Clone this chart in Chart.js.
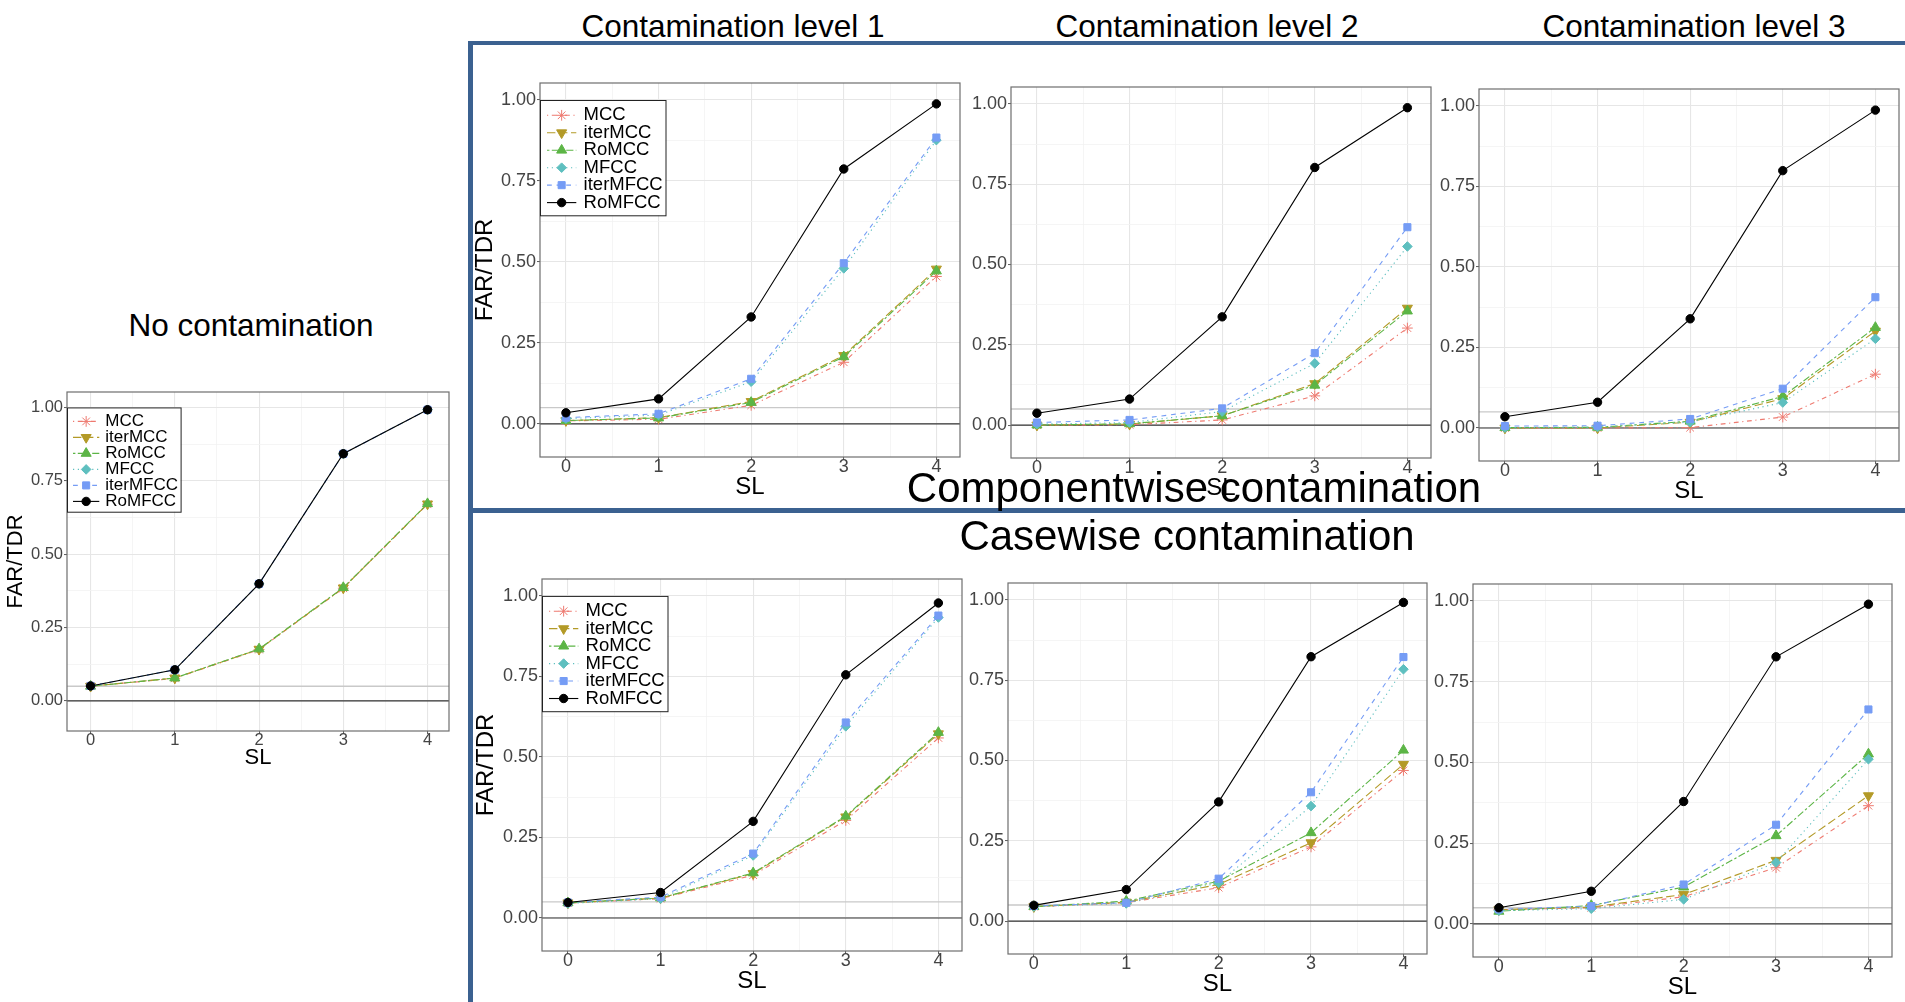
<!DOCTYPE html>
<html lang="en">
<head>
<meta charset="utf-8">
<title>FAR/TDR by SL</title>
<script src="https://cdn.jsdelivr.net/npm/chart.js@4.4.1/dist/chart.umd.min.js"></script>
<style>
  html, body { margin: 0; padding: 0; background: #fff; }
  body { position: relative; width: 1905px; height: 1002px; overflow: hidden;
         font-family: "Liberation Sans", Arial, Helvetica, sans-serif; }
  canvas { position: absolute; }
  .heading { position: absolute; white-space: nowrap; line-height: 1; color: #000;
             transform: translateX(-50%); z-index: 3; }
  .rule { position: absolute; background: #3b6190; z-index: 2; }
</style>
</head>
<body>
<div class="rule" style="left:468px;top:41px;width:1437px;height:4px"></div>
<div class="rule" style="left:468px;top:41px;width:5px;height:961px"></div>
<div class="rule" style="left:468px;top:508px;width:1437px;height:5px"></div>

<div class="heading" style="left:251px;top:310px;font-size:31.5px">No contamination</div>
<div class="heading" style="left:733px;top:10.5px;font-size:31.5px">Contamination level 1</div>
<div class="heading" style="left:1207px;top:10.5px;font-size:31.5px">Contamination level 2</div>
<div class="heading" style="left:1694px;top:10.5px;font-size:31.5px">Contamination level 3</div>
<div class="heading" style="left:1194px;top:467px;font-size:42px">Componentwise contamination</div>
<div class="heading" style="left:1187px;top:514.5px;font-size:42px">Casewise contamination</div>

<script>
// ---- data -----------------------------------------------------------------
const SL = [0, 1, 2, 3, 4];
const methodNames = ['MCC', 'iterMCC', 'RoMCC', 'MFCC', 'iterMFCC', 'RoMFCC'];
const yMajorTicks = [0, 0.25, 0.5, 0.75, 1];
const yMinorTicks = [0.125, 0.375, 0.625, 0.875];
const xMinorTicks = [0.5, 1.5, 2.5, 3.5];
const referenceLevels = [0, 0.05];
const yLimits = [-0.1025, 1.0525];
const xLimits = [-0.28, 4.255];

// No contamination
const none_MCC      = [0.050, 0.077, 0.175, 0.384, 0.670];
const none_iterMCC  = [0.050, 0.078, 0.176, 0.385, 0.671];
const none_RoMCC    = [0.050, 0.078, 0.177, 0.386, 0.672];
const none_MFCC     = [0.051, 0.106, 0.399, 0.842, 0.992];
const none_iterMFCC = [0.051, 0.106, 0.399, 0.842, 0.992];
const none_RoMFCC   = [0.051, 0.106, 0.399, 0.842, 0.992];

// Componentwise contamination, level 1
const comp1_MCC      = [0.009, 0.014, 0.057, 0.190, 0.455];
const comp1_iterMCC  = [0.010, 0.019, 0.069, 0.211, 0.478];
const comp1_RoMCC    = [0.010, 0.018, 0.066, 0.207, 0.472];
const comp1_MFCC     = [0.016, 0.027, 0.130, 0.480, 0.876];
const comp1_iterMFCC = [0.019, 0.031, 0.139, 0.496, 0.884];
const comp1_RoMFCC   = [0.034, 0.077, 0.330, 0.787, 0.988];

// Componentwise contamination, level 2
const comp2_MCC      = [0.000, 0.001, 0.016, 0.091, 0.302];
const comp2_iterMCC  = [0.000, 0.003, 0.029, 0.129, 0.364];
const comp2_RoMCC    = [0.000, 0.004, 0.029, 0.124, 0.355];
const comp2_MFCC     = [0.003, 0.008, 0.042, 0.192, 0.556];
const comp2_iterMFCC = [0.008, 0.016, 0.052, 0.224, 0.616];
const comp2_RoMFCC   = [0.037, 0.081, 0.337, 0.802, 0.988];

// Componentwise contamination, level 3
const comp3_MCC      = [0.000, 0.000, 0.001, 0.034, 0.167];
const comp3_iterMCC  = [0.000, 0.000, 0.018, 0.091, 0.301];
const comp3_RoMCC    = [0.001, 0.002, 0.021, 0.098, 0.312];
const comp3_MFCC     = [0.001, 0.003, 0.018, 0.079, 0.277];
const comp3_iterMFCC = [0.006, 0.007, 0.028, 0.122, 0.406];
const comp3_RoMFCC   = [0.035, 0.080, 0.339, 0.799, 0.987];

// Casewise contamination, level 1
const case1_MCC      = [0.046, 0.060, 0.133, 0.303, 0.559];
const case1_iterMCC  = [0.047, 0.062, 0.138, 0.314, 0.572];
const case1_RoMCC    = [0.047, 0.062, 0.140, 0.316, 0.576];
const case1_MFCC     = [0.045, 0.060, 0.194, 0.595, 0.933];
const case1_iterMFCC = [0.048, 0.065, 0.200, 0.607, 0.939];
const case1_RoMFCC   = [0.048, 0.079, 0.300, 0.755, 0.978];

// Casewise contamination, level 2
const case2_MCC      = [0.045, 0.057, 0.104, 0.231, 0.469];
const case2_iterMCC  = [0.045, 0.059, 0.114, 0.244, 0.488];
const case2_RoMCC    = [0.045, 0.062, 0.124, 0.275, 0.532];
const case2_MFCC     = [0.045, 0.055, 0.119, 0.358, 0.784];
const case2_iterMFCC = [0.047, 0.057, 0.132, 0.401, 0.822];
const case2_RoMFCC   = [0.049, 0.098, 0.371, 0.823, 0.992];

// Casewise contamination, level 3
const case3_MCC      = [0.044, 0.050, 0.084, 0.174, 0.366];
const case3_iterMCC  = [0.044, 0.052, 0.091, 0.197, 0.397];
const case3_RoMCC    = [0.039, 0.057, 0.114, 0.273, 0.526];
const case3_MFCC     = [0.041, 0.047, 0.076, 0.190, 0.510];
const case3_iterMFCC = [0.045, 0.055, 0.122, 0.307, 0.664];
const case3_RoMFCC   = [0.050, 0.101, 0.379, 0.827, 0.990];

// ---- styling ----------------------------------------------------------------
const FONT = '"Liberation Sans", Arial, Helvetica, sans-serif';
Chart.defaults.font.family = FONT;

const methodStyles = [
  { color: '#EE7A70', dash: [1.2, 3.6, 4.8, 3.6],      point: 'star',     radius: 5.4, rotation: 0 },
  { color: '#B39A27', dash: [8.4, 3.6],                point: 'triangle', radius: 5.8, rotation: 180 },
  { color: '#5CB546', dash: [2.4, 2.4, 7.2, 2.4],      point: 'triangle', radius: 5.8, rotation: 0 },
  { color: '#5EBFBF', dash: [1.2, 3.6],                point: 'rectRot',  radius: 4.8, rotation: 0 },
  { color: '#759CF5', dash: [4.8, 4.8],                point: 'rect',     radius: 5.0, rotation: 0 },
  { color: '#000000', dash: [],                        point: 'circle',   radius: 4.2, rotation: 0 }
];

const bigFonts   = { tick: 18,   title: 24, legend: 18.5 };
const smallFonts = { tick: 16.5, title: 22, legend: 17 };
const bigLegend   = { w: 125.5, h: 115.3, first: 15.3, row: 17.46, lx0: 7, lx1: 36.3, tx: 43.6 };
const smallLegend = { w: 113.6, h: 104.3, first: 14.0, row: 16.0,  lx0: 6, lx1: 32.3, tx: 38.3 };

// plot boxes: [left, top, right, bottom] in page pixels
const panels = [
  { box: [67, 392, 449, 731],     fonts: smallFonts, padB: 40, yGap: 51, legend: smallLegend,
    series: [none_MCC, none_iterMCC, none_RoMCC, none_MFCC, none_iterMFCC, none_RoMFCC] },
  { box: [540, 83, 960, 457],     fonts: bigFonts, padB: 45, yGap: 55, legend: bigLegend,
    series: [comp1_MCC, comp1_iterMCC, comp1_RoMCC, comp1_MFCC, comp1_iterMFCC, comp1_RoMFCC] },
  { box: [1011, 87, 1431, 458],   fonts: bigFonts, padB: 45, yGap: null, legend: null,
    series: [comp2_MCC, comp2_iterMCC, comp2_RoMCC, comp2_MFCC, comp2_iterMFCC, comp2_RoMFCC] },
  { box: [1479, 89, 1899, 461],   fonts: bigFonts, padB: 45, yGap: null, legend: null,
    series: [comp3_MCC, comp3_iterMCC, comp3_RoMCC, comp3_MFCC, comp3_iterMFCC, comp3_RoMFCC] },
  { box: [542, 579, 962, 951],    fonts: bigFonts, padB: 45, yGap: 55.3, legend: bigLegend,
    series: [case1_MCC, case1_iterMCC, case1_RoMCC, case1_MFCC, case1_iterMFCC, case1_RoMFCC] },
  { box: [1008, 583, 1427, 954],  fonts: bigFonts, padB: 45, yGap: null, legend: null,
    series: [case2_MCC, case2_iterMCC, case2_RoMCC, case2_MFCC, case2_iterMFCC, case2_RoMFCC] },
  { box: [1473, 584, 1892, 957],  fonts: bigFonts, padB: 45, yGap: null, legend: null,
    series: [case3_MCC, case3_iterMCC, case3_RoMCC, case3_MFCC, case3_iterMFCC, case3_RoMFCC] }
];

const PAD_L = 74, PAD_T = 8, PAD_R = 8;

const isMajorY = v => yMajorTicks.some(m => Math.abs(m - v) < 1e-9);
const isMajorX = v => SL.some(m => Math.abs(m - v) < 1e-9);

// ---- plugins ----------------------------------------------------------------
const referenceLines = {
  id: 'referenceLines',
  beforeDatasetsDraw(chart) {
    const { ctx, chartArea, scales } = chart;
    ctx.save();
    referenceLevels.slice().reverse().forEach(level => {
      const y = scales.y.getPixelForValue(level);
      ctx.strokeStyle = level === 0 ? '#333333' : '#C9C9C9';
      ctx.lineWidth = level === 0 ? 1.2 : 1.4;
      ctx.beginPath();
      ctx.moveTo(chartArea.left, y);
      ctx.lineTo(chartArea.right, y);
      ctx.stroke();
    });
    ctx.restore();
  }
};

const plotFrame = {
  id: 'plotFrame',
  afterDatasetsDraw(chart) {
    const { ctx, chartArea: a } = chart;
    ctx.save();
    ctx.strokeStyle = '#6e6e6e';
    ctx.lineWidth = 1.2;
    ctx.strokeRect(a.left, a.top, a.right - a.left, a.bottom - a.top);
    ctx.restore();
  }
};

const boxLegend = {
  id: 'boxLegend',
  afterDraw(chart, args, o) {
    if (!o || !o.w) return;
    const { ctx, chartArea, scales } = chart;
    const x0 = chartArea.left;
    const y0 = scales.y.getPixelForValue(1);
    ctx.save();
    ctx.fillStyle = '#ffffff';
    ctx.fillRect(x0, y0, o.w, o.h);
    ctx.strokeStyle = '#222';
    ctx.lineWidth = 1;
    ctx.strokeRect(x0 + 0.5, y0 + 0.5, o.w, o.h);
    chart.data.datasets.forEach((ds, i) => {
      const cy = y0 + o.first + i * o.row;
      ctx.setLineDash(ds.borderDash || []);
      ctx.strokeStyle = ds.borderColor;
      ctx.lineWidth = ds.borderWidth;
      ctx.beginPath();
      ctx.moveTo(x0 + o.lx0, cy);
      ctx.lineTo(x0 + o.lx1, cy);
      ctx.stroke();
      ctx.setLineDash([]);
      ctx.fillStyle = ds.pointBackgroundColor;
      ctx.strokeStyle = ds.pointBorderColor;
      ctx.lineWidth = ds.pointBorderWidth;
      Chart.helpers.drawPoint(ctx, {
        pointStyle: ds.pointStyle, rotation: ds.pointRotation || 0,
        radius: ds.pointRadius, borderWidth: ds.pointBorderWidth
      }, x0 + (o.lx0 + o.lx1) / 2, cy);
      ctx.fillStyle = '#000';
      ctx.font = o.font + 'px ' + FONT;
      ctx.textBaseline = 'middle';
      ctx.textAlign = 'left';
      ctx.fillText(ds.label, x0 + o.tx, cy);
    });
    ctx.restore();
  }
};

// ---- charts -----------------------------------------------------------------
function buildPanel(p) {
  const [l, t, r, b] = p.box;
  const f = p.fonts;
  const canvas = document.createElement('canvas');
  canvas.width = (r - l) + PAD_L + PAD_R;
  canvas.height = (b - t) + PAD_T + p.padB;
  canvas.style.left = (l - PAD_L) + 'px';
  canvas.style.top = (t - PAD_T) + 'px';
  canvas.style.width = canvas.width + 'px';
  canvas.style.height = canvas.height + 'px';
  document.body.appendChild(canvas);

  const datasets = methodNames.map((name, i) => {
    const s = methodStyles[i];
    return {
      label: name,
      data: SL.map((x, j) => ({ x: x, y: p.series[i][j] })),
      borderColor: s.color,
      backgroundColor: s.color,
      borderWidth: 1.1,
      borderDash: s.dash,
      pointStyle: s.point,
      pointRadius: s.radius,
      pointHoverRadius: s.radius,
      pointRotation: s.rotation,
      pointBackgroundColor: s.color,
      pointBorderColor: s.color,
      pointBorderWidth: 1,
      tension: 0,
      fill: false,
      order: methodNames.length - 1 - i
    };
  });

  const zeroPadding = s => { s.paddingLeft = 0; s.paddingRight = 0; s.paddingTop = 0; s.paddingBottom = 0; };
  const yTitleFontSize = f.title;
  const yTitlePad = p.yGap !== null ? PAD_L - p.yGap - yTitleFontSize * 0.6 : 0;

  new Chart(canvas, {
    type: 'line',
    data: { datasets },
    options: {
      responsive: false,
      animation: false,
      devicePixelRatio: 1,
      events: [],
      layout: { padding: { left: 0, top: PAD_T, right: PAD_R, bottom: 0 } },
      plugins: {
        legend: { display: false },
        tooltip: { enabled: false },
        boxLegend: p.legend ? Object.assign({ font: f.legend }, p.legend) : { w: 0 }
      },
      scales: {
        x: {
          type: 'linear',
          position: 'bottom',
          min: xLimits[0],
          max: xLimits[1],
          bounds: 'data',
          afterBuildTicks: s => {
            s.ticks = SL.concat(xMinorTicks).sort((a, b) => a - b).map(v => ({ value: v }));
          },
          afterFit: s => { s.height = p.padB; zeroPadding(s); },
          ticks: {
            autoSkip: false, maxRotation: 0, minRotation: 0, padding: 0,
            color: '#444444',
            font: { size: f.tick, lineHeight: 0.8 },
            callback: v => isMajorX(v) ? String(Math.round(v)) : ''
          },
          grid: {
            color: c => (c.tick && isMajorX(c.tick.value)) ? '#E6E6E6' : '#F3F3F3',
            lineWidth: c => (c.tick && isMajorX(c.tick.value)) ? 1.1 : 0.8,
            tickColor: c => (c.tick && isMajorX(c.tick.value)) ? '#5a5a5a' : 'rgba(0,0,0,0)',
            tickLength: 3, tickWidth: 1, drawTicks: true
          },
          border: { display: false },
          title: {
            display: true, text: 'SL', color: '#000',
            font: { size: f.title, lineHeight: 1.2 },
            padding: { top: 0, bottom: 0 }
          }
        },
        y: {
          type: 'linear',
          position: 'left',
          min: yLimits[0],
          max: yLimits[1],
          bounds: 'data',
          afterBuildTicks: s => {
            s.ticks = yMajorTicks.concat(yMinorTicks).sort((a, b) => a - b).map(v => ({ value: v }));
          },
          afterFit: s => { s.width = PAD_L; zeroPadding(s); },
          ticks: {
            autoSkip: false, padding: 1,
            color: '#444444',
            font: { size: f.tick },
            callback: v => isMajorY(v) ? Number(v).toFixed(2) : ''
          },
          grid: {
            color: c => (c.tick && isMajorY(c.tick.value)) ? '#E6E6E6' : '#F3F3F3',
            lineWidth: c => (c.tick && isMajorY(c.tick.value)) ? 1.1 : 0.8,
            tickColor: c => (c.tick && isMajorY(c.tick.value)) ? '#5a5a5a' : 'rgba(0,0,0,0)',
            tickLength: 3, tickWidth: 1, drawTicks: true
          },
          border: { display: false },
          title: {
            display: p.yGap !== null, text: 'FAR/TDR', color: '#000',
            font: { size: yTitleFontSize, lineHeight: 1.2 },
            padding: { top: yTitlePad, bottom: 0 }
          }
        }
      }
    },
    plugins: [referenceLines, plotFrame, boxLegend]
  });
}

panels.forEach(buildPanel);
</script>
</body>
</html>
